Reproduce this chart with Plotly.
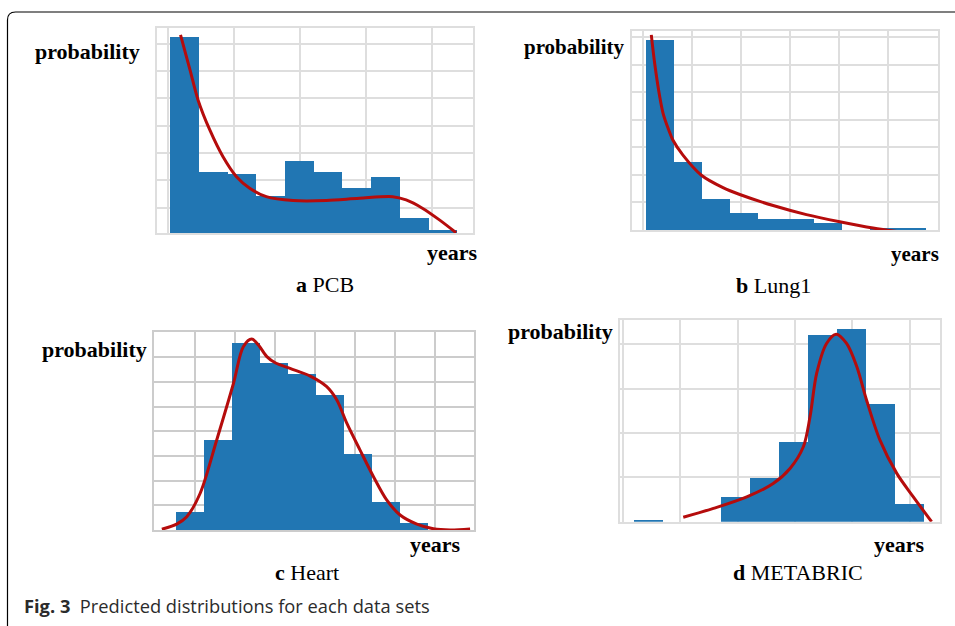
import plotly.graph_objects as go

W, H = 955, 626

# ---------------- data (bin heights in grid units, curve points) ----------------
pcb_heights = [7.16, 2.24, 2.15, 1.34, 2.63, 2.24, 1.65, 2.04, 0.54, 0.12]
pcb_curve_x = [0.37, 0.70, 0.98, 1.39, 1.85, 2.32, 2.78, 3.36, 4.29, 5.45, 6.60, 7.76, 8.23, 8.81, 9.39, 9.97]
pcb_curve_y = [7.26, 5.98, 4.88, 3.78, 2.80, 2.07, 1.65, 1.34, 1.20, 1.20, 1.28, 1.34, 1.22, 0.91, 0.49, 0.02]

lung_heights = [6.90, 2.48, 1.11, 0.61, 0.40, 0.40, 0.27, 0.00, 0.06, 0.04]
lung_curve_x = [0.19, 0.31, 0.49, 0.61, 0.81, 0.96, 1.32, 1.98, 2.75, 3.35, 4.54, 5.73, 6.92, 8.11, 9.00]
lung_curve_y = [7.09, 6.06, 4.85, 4.24, 3.64, 3.27, 2.72, 1.99, 1.54, 1.29, 0.89, 0.56, 0.30, 0.07, -0.06]

heart_heights = [0.73, 3.65, 7.59, 6.78, 6.35, 5.50, 3.11, 1.16, 0.30]
heart_curve_x = [-0.51, 0.02, 0.38, 0.86, 1.45, 2.05, 2.40, 2.70, 2.94, 3.24, 3.54, 4.07, 4.79, 5.38,
                 5.74, 6.10, 6.57, 7.05, 7.52, 8.00, 8.60, 9.19, 9.79, 10.50]
heart_curve_y = [0.03, 0.24, 0.54, 1.49, 3.65, 5.95, 7.43, 7.74, 7.50, 7.03, 6.78, 6.55, 6.24, 5.81,
                 5.27, 4.32, 3.24, 2.16, 1.22, 0.61, 0.24, 0.05, 0.00, 0.04]

meta_heights = [0.045, 0.0, 0.0, 0.55, 0.98, 1.79, 4.21, 4.35, 2.65, 0.40]
meta_curve_x = [1.70, 2.74, 3.89, 4.80, 5.38, 5.84, 6.07, 6.30, 6.64, 6.97, 7.33, 7.68, 8.02, 8.48,
                9.06, 9.63, 10.26]
meta_curve_y = [0.10, 0.30, 0.56, 0.86, 1.20, 1.69, 2.37, 3.35, 4.02, 4.23, 4.02, 3.50, 2.74, 1.84,
                1.09, 0.56, 0.00]

panel_letters = ["a", "b", "c", "d"]
panel_names = ["PCB", "Lung1", "Heart", "METABRIC"]
y_label = "probability"
x_label = "years"
caption_bold = "Fig. 3"
caption_text = "Predicted distributions for each data sets"

# ---------------- layout geometry (pixels) ----------------
panels = [
    dict(h=pcb_heights, cx=pcb_curve_x, cy=pcb_curve_y, box=(156.7, 473.3, 28.3, 233.3),
         xr=[-0.46, 10.57], yr=[0, 7.5], xt0=-0.06, xdt=2.30, yt0=-0.06, ydt=1.0,
         prob=(33, 52), years=(480, 252), lab=(325, 284), ysz=22),
    dict(h=lung_heights, cx=lung_curve_x, cy=lung_curve_y, box=(631.7, 938.3, 31.0, 230.0),
         xr=[-0.51, 10.44], yr=[0, 7.23], xt0=-0.12, xdt=1.755, yt0=0, ydt=1.0,
         prob=(522, 47), years=(941, 254), lab=(773, 285), ysz=21),
    dict(h=heart_heights, cx=heart_curve_x, cy=heart_curve_y, box=(154.0, 474.0, 331.7, 530.0),
         xr=[-0.79, 10.64], yr=[0, 8.04], xt0=0.67, xdt=1.43, yt0=0, ydt=1.0,
         prob=(40, 349), years=(463, 544), lab=(307, 572), ysz=22),
    dict(h=meta_heights, cx=meta_curve_x, cy=meta_curve_y, box=(620.0, 940.0, 320.0, 521.7),
         xr=[-0.48, 10.55], yr=[0, 4.55], xt0=1.59, xdt=1.98, yt0=0, ydt=1.0,
         prob=(506, 331), years=(927, 544), lab=(798, 572), ysz=22),
]

BAR = "#2176b3"
RED = "#b50c0c"
GRID = "#dedede"
SERIF = "Liberation Serif, Times New Roman, serif"

fig = go.Figure()
layout = dict(
    width=W, height=H, margin=dict(l=0, r=0, t=0, b=0),
    paper_bgcolor="white", plot_bgcolor="white", showlegend=False,
    bargap=0, annotations=[], shapes=[],
)

for i, p in enumerate(panels):
    n = i + 1
    xa = "x" if n == 1 else f"x{n}"
    ya = "y" if n == 1 else f"y{n}"
    centers = [k + 0.5 for k in range(len(p["h"]))]
    fig.add_trace(go.Bar(x=centers, y=p["h"], width=[1.0] * len(centers), marker=dict(color=BAR, line=dict(width=0)),
                         xaxis=xa, yaxis=ya, hoverinfo="skip"))
    fig.add_trace(go.Scatter(x=p["cx"], y=p["cy"], mode="lines", line=dict(color=RED, width=3, shape="spline", smoothing=0.9),
                             xaxis=xa, yaxis=ya, hoverinfo="skip", cliponaxis=False))
    x0, x1, y0, y1 = p["box"]
    gcol = "#cccccc" if n == 3 else GRID
    layout["xaxis" if n == 1 else f"xaxis{n}"] = dict(
        domain=[x0 / W, x1 / W], range=p["xr"], anchor=ya, showticklabels=False, ticks="",
        showgrid=True, gridcolor=gcol, gridwidth=1.5, tick0=p["xt0"], dtick=p["xdt"], zeroline=False,
        showline=True, mirror=True, linecolor=gcol, linewidth=1.5, fixedrange=True)
    layout["yaxis" if n == 1 else f"yaxis{n}"] = dict(
        domain=[1 - y1 / H, 1 - y0 / H], range=p["yr"], anchor=xa, showticklabels=False, ticks="",
        showgrid=True, gridcolor=gcol, gridwidth=1.5, tick0=p["yt0"], dtick=p["ydt"], zeroline=False,
        showline=True, mirror=True, linecolor=gcol, linewidth=1.5, fixedrange=True)

    px, py = p["prob"]
    layout["annotations"].append(dict(text=f"<b>{y_label}</b>", x=px / W, y=1 - py / H, xref="paper", yref="paper",
                                      xanchor="left", yanchor="middle", showarrow=False,
                                      font=dict(family=SERIF, size=p["ysz"], color="black")))
    yx, yy = p["years"]
    layout["annotations"].append(dict(text=f"<b>{x_label}</b>", x=yx / W, y=1 - yy / H, xref="paper", yref="paper",
                                      xanchor="right", yanchor="middle", showarrow=False,
                                      font=dict(family=SERIF, size=p["ysz"], color="black")))
    lx, ly = p["lab"]
    layout["annotations"].append(dict(text=f"<b>{panel_letters[i]}</b> {panel_names[i]}", x=lx / W, y=1 - ly / H,
                                      xref="paper", yref="paper", xanchor="center", yanchor="middle", showarrow=False,
                                      font=dict(family=SERIF, size=22, color="black")))

layout["annotations"].append(dict(text=f"<b>{caption_bold}</b>  {caption_text}", x=22 / W, y=1 - 605 / H,
                                  xref="paper", yref="paper", xanchor="left", yanchor="middle", showarrow=False,
                                  font=dict(family="Open Sans, Noto Sans, sans-serif", size=18.3, color="#2b2b2b")))

# outer frame (top and left edges with rounded corner)
def P(x, y):
    return f"{x / W:.5f},{1 - y / H:.5f}"

frame = f"M {P(7.5, 626)} L {P(7.5, 20)} Q {P(7.5, 12)} {P(15.5, 12)} L {P(955, 12)}"
layout["shapes"].append(dict(type="path", path=frame, xref="paper", yref="paper",
                             line=dict(color="black", width=1.2)))

fig.update_layout(**layout)
fig.write_html("out.html", config={"displayModeBar": False},
               post_script="document.body.style.margin='0';document.body.style.padding='0';")
